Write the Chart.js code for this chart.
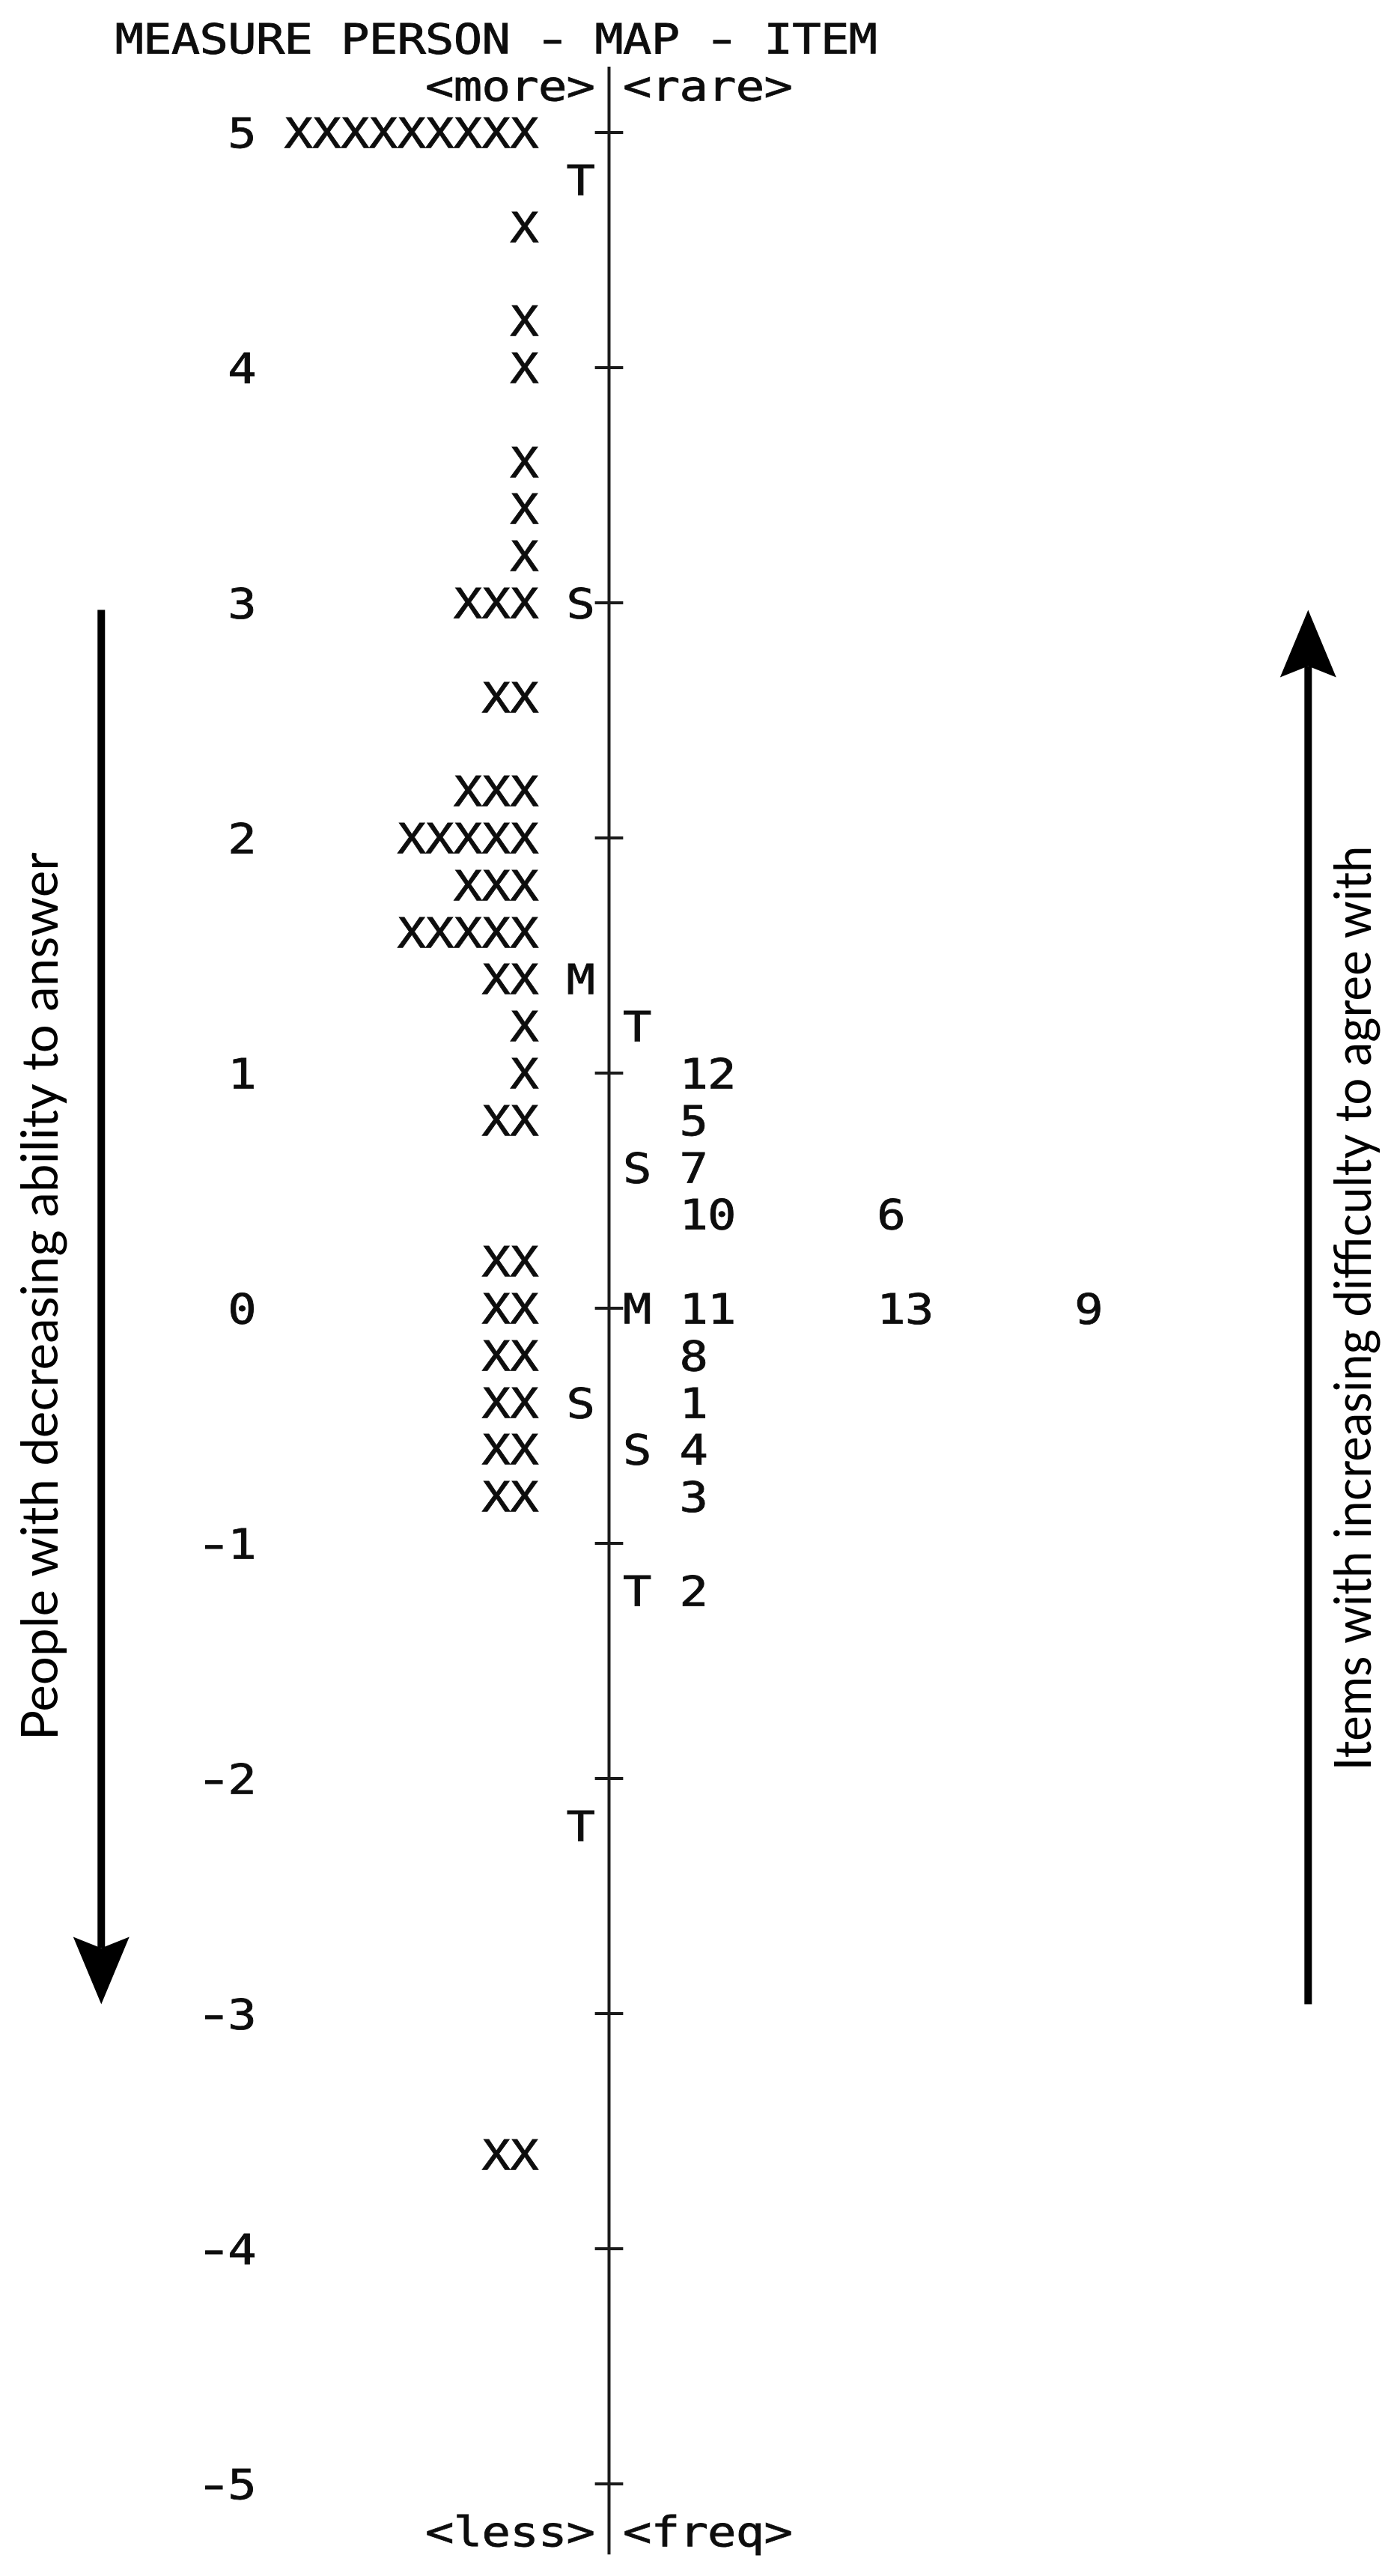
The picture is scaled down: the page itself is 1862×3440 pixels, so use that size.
<!DOCTYPE html>
<html><head><meta charset="utf-8">
<script src="https://cdn.jsdelivr.net/npm/chart.js@4.4.1/dist/chart.umd.min.js"></script>
<style>html,body{margin:0;padding:0;background:#fff}canvas{display:block}</style>
</head><body>
<canvas id="c" width="1862" height="3440"></canvas>
<script>
// ---------- data ----------
const titleText = 'MEASURE PERSON - MAP - ITEM';
const headLeft = '<more>';
const headRight = '<rare>';
const footLeft = '<less>';
const footRight = '<freq>';
const tickValues = [5, 4, 3, 2, 1, 0, -1, -2, -3, -4, -5];
const personLogits = [5.0, 4.6, 4.2, 4.0, 3.6, 3.4, 3.2, 3.0, 2.6, 2.2, 2.0, 1.8, 1.6, 1.4, 1.2, 1.0, 0.8, 0.2, 0.0, -0.2, -0.4, -0.6, -0.8, -3.6];
const personCounts = [9, 1, 1, 1, 1, 1, 1, 3, 2, 3, 5, 3, 5, 2, 1, 1, 2, 2, 2, 2, 2, 2, 2, 2];
const personStatLabels = ['T', 'S', 'M', 'S', 'T'];
const personStatLogits = [4.8, 3.0, 1.4, -0.4, -2.2];
const itemStatLabels = ['T', 'S', 'M', 'S', 'T'];
const itemStatLogits = [1.2, 0.6, 0.0, -0.6, -1.2];
const itemNumbers = [12, 5, 7, 10, 6, 11, 13, 9, 8, 1, 4, 3, 2];
const itemLogits = [1.0, 0.8, 0.6, 0.4, 0.4, 0.0, 0.0, 0.0, -0.2, -0.4, -0.6, -0.8, -1.2];
const leftNote = 'People with decreasing ability to answer';
const rightNote = 'Items with increasing difficulty to agree with';
const arrowSpan = [2.97, -2.96];

// ---------- layout (character columns / logit rows) ----------
const L = {
  xMin: -21.578, xMax: 27.812, yMin: -5.3917, yMax: 5.5637,
  personEnd: -3, personStat: -1, itemStat: 1, itemStart: 3, itemGap: 7,
  tickEnd: -13, titleStart: -17, titleRow: 5.4, headRow: 5.2, footRow: -5.2,
  axisTop: 5.28, axisBottom: -5.30, tickHalf: 0.5,
  leftArrowCol: -17.99, rightArrowCol: 24.77,
  leftNoteCol: -19.53, rightNoteCol: 27.0, leftNoteY: 0.05, rightNoteY: 0.0,
  leftNoteLen: 1186, rightNoteLen: 1235
};
const MONO = '55px "DejaVu Sans Mono"';
const CAP = 40;
const INK = '#0d0d0d';

const itemPoints = itemLogits.map((v, i) => {
  let rank = 0;
  for (let j = 0; j < i; j++) if (itemLogits[j] === v) rank++;
  return { x: L.itemStart + L.itemGap * rank, y: v, txt: String(itemNumbers[i]), align: 'left' };
});

function textSet(label, data) {
  return { label, type: 'scatter', data, pointRadius: 0, pointHoverRadius: 0, textMarks: true };
}

const datasets = [
  { label: 'axis', type: 'line', data: [{ x: 0, y: L.axisTop }, { x: 0, y: L.axisBottom }],
    borderColor: '#1a1a1a', borderWidth: 4, pointRadius: 0, fill: false },
  textSet('persons', personLogits.map((v, i) => ({ x: L.personEnd, y: v, txt: 'X'.repeat(personCounts[i]), align: 'right' }))),
  textSet('personStats', personStatLogits.map((v, i) => ({ x: L.personStat, y: v, txt: personStatLabels[i], align: 'right' }))),
  textSet('itemStats', itemStatLogits.map((v, i) => ({ x: L.itemStat, y: v, txt: itemStatLabels[i], align: 'left' }))),
  textSet('items', itemPoints),
  textSet('tickLabels', tickValues.map(v => ({ x: L.tickEnd, y: v, txt: String(v), align: 'right' }))),
  textSet('headers', [
    { x: L.titleStart, y: L.titleRow, txt: titleText, align: 'left' },
    { x: -1, y: L.headRow, txt: headLeft, align: 'right' },
    { x: 1, y: L.headRow, txt: headRight, align: 'left' },
    { x: -1, y: L.footRow, txt: footLeft, align: 'right' },
    { x: 1, y: L.footRow, txt: footRight, align: 'left' }
  ])
];

const wrightPlugin = {
  id: 'wright',
  afterDatasetsDraw(chart) {
    const ctx = chart.ctx, xs = chart.scales.x, ys = chart.scales.y;
    const cw = xs.getPixelForValue(1) - xs.getPixelForValue(0);
    ctx.save();
    // tick marks
    ctx.strokeStyle = '#1a1a1a';
    ctx.lineWidth = 4;
    tickValues.forEach(v => {
      const py = Math.round(ys.getPixelForValue(v));
      ctx.beginPath();
      ctx.moveTo(xs.getPixelForValue(-L.tickHalf), py);
      ctx.lineTo(xs.getPixelForValue(L.tickHalf), py);
      ctx.stroke();
    });
    // monospace text marks
    ctx.fillStyle = INK;
    ctx.strokeStyle = INK;
    ctx.lineWidth = 0.8;
    ctx.font = MONO;
    ctx.textAlign = 'center';
    ctx.textBaseline = 'alphabetic';
    chart.data.datasets.forEach((ds, di) => {
      if (!ds.textMarks) return;
      const meta = chart.getDatasetMeta(di);
      meta.data.forEach((el, i) => {
        const raw = ds.data[i];
        const s = raw.txt;
        const start = raw.align === 'right' ? el.x - (s.length - 1) * cw : el.x;
        for (let k = 0; k < s.length; k++) {
          if (s[k] === ' ') continue;
          ctx.save();
          ctx.translate(start + k * cw, el.y + CAP / 2);
          ctx.scale(s[k] === '-' ? 1.6 : 1.16, 1);
          ctx.fillText(s[k], 0, 0);
          ctx.strokeText(s[k], 0, 0);
          ctx.restore();
        }
      });
    });
    // arrows
    ctx.fillStyle = '#000';
    const headW = 75, headL = 90, notch = 15, shaftW = 10;
    function arrow(col, fromV, toV) {
      const px = xs.getPixelForValue(col);
      const y0 = ys.getPixelForValue(fromV);
      const y1 = ys.getPixelForValue(toV);
      const dir = Math.sign(y1 - y0);
      const yEnd = y1 - dir * (headL - notch);
      ctx.fillRect(px - shaftW / 2, Math.min(y0, yEnd), shaftW, Math.abs(yEnd - y0));
      ctx.beginPath();
      ctx.moveTo(px, y1);
      ctx.lineTo(px - headW / 2, y1 - dir * headL);
      ctx.lineTo(px, yEnd);
      ctx.lineTo(px + headW / 2, y1 - dir * headL);
      ctx.closePath();
      ctx.fill();
    }
    arrow(L.leftArrowCol, arrowSpan[0], arrowSpan[1]);
    arrow(L.rightArrowCol, arrowSpan[1], arrowSpan[0]);
    // rotated notes
    function note(text, col, v, len) {
      ctx.save();
      ctx.font = '68px Lato';
      ctx.textAlign = 'center';
      ctx.textBaseline = 'alphabetic';
      const w = ctx.measureText(text).width;
      ctx.translate(xs.getPixelForValue(col), ys.getPixelForValue(v));
      ctx.rotate(-Math.PI / 2);
      ctx.scale(len / w, 1);
      ctx.fillText(text, 0, 0);
      ctx.restore();
    }
    ctx.fillStyle = '#000';
    note(leftNote, L.leftNoteCol, L.leftNoteY, L.leftNoteLen);
    note(rightNote, L.rightNoteCol, L.rightNoteY, L.rightNoteLen);
    ctx.restore();
  }
};

new Chart(document.getElementById('c'), {
  type: 'scatter',
  data: { datasets },
  options: {
    responsive: false,
    maintainAspectRatio: false,
    devicePixelRatio: 1,
    animation: false,
    events: [],
    layout: { padding: 0 },
    plugins: { legend: { display: false }, tooltip: { enabled: false } },
    scales: {
      x: { type: 'linear', min: L.xMin, max: L.xMax, display: false },
      y: { type: 'linear', min: L.yMin, max: L.yMax, display: false }
    }
  },
  plugins: [wrightPlugin]
});
</script>
</body></html>
